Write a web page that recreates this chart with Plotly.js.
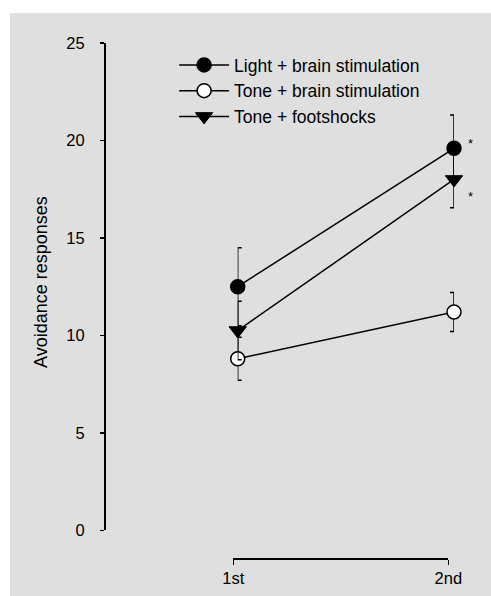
<!DOCTYPE html>
<html>
<head>
<meta charset="utf-8">
<script src="https://cdn.plot.ly/plotly-3.0.1.min.js"></script>
<style>
  html, body { margin: 0; padding: 0; background: #ffffff; }
  #chart { position: absolute; left: 10px; top: 13px; width: 481px; height: 583px; }
</style>
</head>
<body>
<div id="chart"></div>
<script>
// ---- data ----
const sessions = ['1st', '2nd'];
const seriesNames = ['Light + brain stimulation', 'Tone + brain stimulation', 'Tone + footshocks'];
const lightBrain = [12.5, 19.6];
const lightBrainErr = [2.0, 1.7];
const toneBrain = [8.8, 11.2];
const toneBrainErr = [1.1, 1.0];
const toneShock = [10.25, 18.0];
const toneShockErr = [1.5, 1.45];
const yTickVals = [0, 5, 10, 15, 20, 25];
const lightBrainSig = ['', '*'];
const toneShockSig = ['', '*'];
const yTitle = 'Avoidance responses';

const FONT = 'Liberation Sans, Arial, Helvetica, sans-serif';
const BG = '#dfdfdf';

function errBar(arr) {
  return { type: 'data', array: arr, visible: true, color: '#000', thickness: 1.5, width: 4 };
}

const baseLine = { color: '#000', width: 1.5 };

const traces = [
  // dummy trace so the visible category axis exists
  { x: sessions, y: [null, null], xaxis: 'x', yaxis: 'y', type: 'scatter', mode: 'markers',
    showlegend: false, hoverinfo: 'skip' },
  { x: sessions, y: toneBrain, name: seriesNames[1], legendrank: 2, legendgroup: 'b',
    xaxis: 'x2', yaxis: 'y', type: 'scatter', mode: 'lines+markers', cliponaxis: false,
    line: baseLine, error_y: errBar(toneBrainErr),
    marker: { symbol: 'circle', size: 14, color: '#ffffff', line: { color: '#000', width: 1.5 } } },
  { x: sessions, y: toneShock, name: seriesNames[2], legendrank: 3, legendgroup: 'c',
    xaxis: 'x2', yaxis: 'y', type: 'scatter', mode: 'lines+markers', cliponaxis: false,
    line: baseLine, error_y: errBar(toneShockErr),
    marker: { symbol: 'triangle-down', size: 15, color: '#000', line: { color: '#000', width: 1 } } },
  { x: sessions, y: lightBrain, name: seriesNames[0], legendrank: 1, legendgroup: 'a',
    xaxis: 'x2', yaxis: 'y', type: 'scatter', mode: 'lines+markers', cliponaxis: false,
    line: baseLine, error_y: errBar(lightBrainErr),
    marker: { symbol: 'circle', size: 14, color: '#000', line: { color: '#000', width: 1.5 } } }
];

const annotations = [];
sessions.forEach(function (s, i) {
  if (lightBrainSig[i]) annotations.push({ xref: 'x2', yref: 'y', x: s, y: lightBrain[i], text: lightBrainSig[i],
    showarrow: false, xshift: 16, yshift: 5, font: { family: FONT, size: 13, color: '#000' } });
  if (toneShockSig[i]) annotations.push({ xref: 'x2', yref: 'y', x: s, y: toneShock[i], text: toneShockSig[i],
    showarrow: false, xshift: 16, yshift: -17, font: { family: FONT, size: 13, color: '#000' } });
});
annotations.push({ xref: 'paper', yref: 'paper', x: -0.1786, y: 0.537, text: yTitle, textangle: -90,
  showarrow: false, xanchor: 'center', yanchor: 'middle', font: { family: FONT, size: 18, color: '#000' } });

const layout = {
  width: 481, height: 583,
  margin: { l: 94, r: 37, t: 30, b: 38, pad: 0 },
  paper_bgcolor: BG, plot_bgcolor: 'rgba(0,0,0,0)',
  font: { family: FONT, size: 16.5, color: '#000' },
  showlegend: true,
  legend: { x: 0.2003, xanchor: 'left', y: 0.9922, yanchor: 'top', bgcolor: 'rgba(0,0,0,0)',
    font: { family: FONT, size: 17.5, color: '#000' }, itemwidth: 50, tracegroupgap: 2,
    traceorder: 'normal' },
  xaxis: { type: 'category', categoryorder: 'array', categoryarray: sessions, range: [0, 1],
    domain: [0.3694, 0.9837], anchor: 'free', position: 0,
    showline: true, linecolor: '#000', linewidth: 1.5, ticks: 'outside', ticklen: 5, tickwidth: 1.5,
    tickcolor: '#000', showgrid: false, zeroline: false, fixedrange: true,
    tickfont: { family: FONT, size: 16.5, color: '#000' }, ticklabelstandoff: 0 },
  xaxis2: { type: 'category', categoryorder: 'array', categoryarray: sessions, range: [0, 1],
    domain: [0.382, 1.0], anchor: 'y', visible: false, showgrid: false, zeroline: false, fixedrange: true },
  yaxis: { range: [0, 25], domain: [0.0538, 1], anchor: 'free', position: 0,
    tickvals: yTickVals, ticktext: yTickVals.map(String),
    showline: true, linecolor: '#000', linewidth: 1.5, ticks: 'outside', ticklen: 4, tickwidth: 1.5,
    tickcolor: '#000', showgrid: false, zeroline: false, fixedrange: true,
    tickfont: { family: FONT, size: 16.5, color: '#000' }, ticklabelstandoff: 12 },
  annotations: annotations
};

Plotly.newPlot('chart', traces, layout, { staticPlot: true, displayModeBar: false });
</script>
</body>
</html>
